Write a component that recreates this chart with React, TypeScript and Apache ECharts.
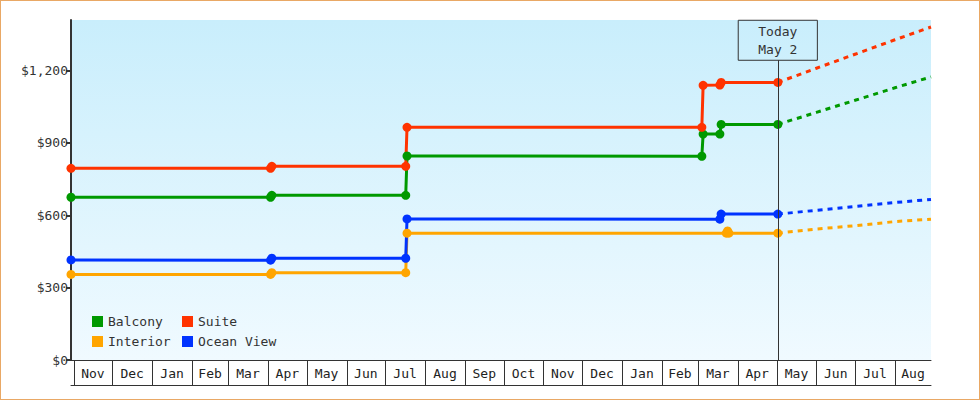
import React, { useEffect, useRef } from 'react';
import * as echarts from 'echarts';

// ---- Data ----
const SERIES_NAMES = ['Balcony', 'Suite', 'Interior', 'Ocean View'];
const SERIES_COLORS = ['#009900', '#ff3300', '#ffa500', '#0033ff'];

const BALCONY: [string, number][] = [
  ['2016-10-30', 675], ['2017-04-03', 675], ['2017-04-04', 683], ['2017-07-17', 683],
  ['2017-07-18', 846], ['2018-03-04', 845], ['2018-03-05', 937], ['2018-03-18', 937],
  ['2018-03-19', 977], ['2018-05-02', 977],
];
const SUITE: [string, number][] = [
  ['2016-10-30', 795], ['2017-04-03', 795], ['2017-04-04', 803], ['2017-07-17', 803],
  ['2017-07-18', 965], ['2018-03-04', 965], ['2018-03-05', 1139], ['2018-03-18', 1140],
  ['2018-03-19', 1151], ['2018-05-02', 1151],
];
const INTERIOR: [string, number][] = [
  ['2016-10-30', 355], ['2017-04-03', 355], ['2017-04-04', 362], ['2017-07-17', 362],
  ['2017-07-18', 526], ['2018-03-23', 526], ['2018-03-24', 535], ['2018-03-25', 526],
  ['2018-05-02', 526],
];
const OCEAN_VIEW: [string, number][] = [
  ['2016-10-30', 415], ['2017-04-03', 414], ['2017-04-04', 422], ['2017-07-17', 422],
  ['2017-07-18', 585], ['2018-03-18', 584], ['2018-03-19', 605], ['2018-05-02', 605],
];

const FORECAST_DATES = ['2018-05-02', '2018-06-01', '2018-07-01', '2018-08-01', '2018-08-29'];
const BALCONY_FORECAST = [977, 1027, 1077, 1129, 1174];
const SUITE_FORECAST = [1151, 1210, 1268, 1328, 1381];
const INTERIOR_FORECAST = [526, 543, 557, 574, 584];
const OCEAN_VIEW_FORECAST = [605, 621, 637, 653, 666];

const MONTH_LABELS = [
  'Nov', 'Dec', 'Jan', 'Feb', 'Mar', 'Apr', 'May', 'Jun', 'Jul', 'Aug', 'Sep',
  'Oct', 'Nov', 'Dec', 'Jan', 'Feb', 'Mar', 'Apr', 'May', 'Jun', 'Jul', 'Aug',
];
const MONTH_STARTS = [
  '2016-11-01', '2016-12-01', '2017-01-01', '2017-02-01', '2017-03-01', '2017-04-01',
  '2017-05-01', '2017-06-01', '2017-07-01', '2017-08-01', '2017-09-01', '2017-10-01',
  '2017-11-01', '2017-12-01', '2018-01-01', '2018-02-01', '2018-03-01', '2018-04-01',
  '2018-05-01', '2018-06-01', '2018-07-01', '2018-08-01',
];

const X_MIN = '2016-10-30';
const X_MAX = '2018-08-29';
const Y_TICKS = [0, 300, 600, 900, 1200];
const Y_MAX = 1410;
const TODAY = '2018-05-02';
const TODAY_LABEL = 'Today\nMay 2';
const TODAY_LINE_TOP = 1243;

const FONT = '"DejaVu Sans Mono", monospace';
const INK = '#333333';

export default function App() {
  const ref = useRef<HTMLDivElement>(null);

  useEffect(() => {
    if (!ref.current) return;
    const chart = echarts.init(ref.current, null, { renderer: 'svg' });
    const parse = (d: string) => +echarts.time.parse(d);

    const mainData = [BALCONY, SUITE, INTERIOR, OCEAN_VIEW];
    const forecasts = [BALCONY_FORECAST, SUITE_FORECAST, INTERIOR_FORECAST, OCEAN_VIEW_FORECAST];

    const series: any[] = [];
    SERIES_NAMES.forEach((name, i) => {
      series.push({
        name: name + ' forecast',
        type: 'line',
        data: FORECAST_DATES.map((d, k) => [d, forecasts[i][k]]),
        showSymbol: false,
        symbol: 'none',
        lineStyle: { color: SERIES_COLORS[i], width: 3, type: [5, 5] },
        itemStyle: { color: SERIES_COLORS[i] },
        silent: true,
        z: 2,
      });
    });
    SERIES_NAMES.forEach((name, i) => {
      const s: any = {
        name,
        type: 'line',
        data: mainData[i],
        symbol: 'circle',
        symbolSize: 9,
        showAllSymbol: true,
        lineStyle: { color: SERIES_COLORS[i], width: 3 },
        itemStyle: { color: SERIES_COLORS[i] },
        silent: true,
        z: 3,
      };
      if (i === 0) {
        s.markLine = {
          silent: true,
          symbol: ['none', 'none'],
          lineStyle: { color: INK, width: 1, type: 'solid' },
          label: {
            show: true,
            position: 'end',
            distance: 0,
            formatter: TODAY_LABEL,
            fontFamily: FONT,
            fontSize: 13,
            lineHeight: 18,
            color: INK,
            align: 'center',
            borderColor: INK,
            borderWidth: 1,
            padding: [2, 20, 2, 20],
          },
          data: [[{ coord: [TODAY, 0] }, { coord: [TODAY, TODAY_LINE_TOP] }]],
        };
      }
      series.push(s);
    });

    series.push({
      type: 'custom',
      name: 'months',
      xAxisIndex: 0,
      yAxisIndex: 0,
      clip: false,
      silent: true,
      encode: { x: 0, y: 2 },
      data: MONTH_STARTS.map((d, i) => [
        parse(d),
        i + 1 < MONTH_STARTS.length ? parse(MONTH_STARTS[i + 1]) : parse(X_MAX),
        0,
      ]),
      renderItem: (params: any, api: any) => {
        const s = api.coord([api.value(0), 0]);
        const e = api.coord([api.value(1), 0]);
        const x = Math.round(s[0]) + 0.5;
        return {
          type: 'group',
          children: [
            {
              type: 'line',
              shape: { x1: x, y1: s[1], x2: x, y2: s[1] + 25 },
              style: { stroke: INK, lineWidth: 1 },
            },
            {
              type: 'text',
              x: (s[0] + e[0]) / 2,
              y: s[1] + 13,
              style: {
                text: MONTH_LABELS[params.dataIndex],
                fill: '#222',
                font: '13px ' + FONT,
                align: 'center',
                verticalAlign: 'middle',
              },
            },
          ],
        };
      },
      z: 5,
    });

    const legendBase = {
      orient: 'vertical',
      top: 315,
      padding: 0,
      itemWidth: 11,
      itemHeight: 11,
      itemGap: 7,
      icon: 'rect',
      selectedMode: false,
      textStyle: { fontFamily: FONT, fontSize: 13, color: INK },
    };

    chart.setOption({
      animation: false,
      grid: {
        left: 71,
        right: 49,
        top: 20,
        bottom: 40,
        show: true,
        borderWidth: 0,
        backgroundColor: new echarts.graphic.LinearGradient(0, 0, 0, 1, [
          { offset: 0, color: '#c9eefc' },
          { offset: 1, color: '#f0faff' },
        ]),
      },
      legend: [
        { ...legendBase, left: 92, data: [SERIES_NAMES[0], SERIES_NAMES[2]] },
        { ...legendBase, left: 182, data: [SERIES_NAMES[1], SERIES_NAMES[3]] },
      ],
      xAxis: [
        {
          type: 'time',
          min: X_MIN,
          max: X_MAX,
          axisLine: { show: true, lineStyle: { color: INK, width: 1 } },
          axisTick: { show: false },
          axisLabel: { show: false },
          splitLine: { show: false },
        },
        {
          type: 'time',
          min: X_MIN,
          max: X_MAX,
          position: 'bottom',
          offset: 25,
          axisLine: { show: true, onZero: false, lineStyle: { color: INK, width: 1 } },
          axisTick: { show: false },
          axisLabel: { show: false },
          splitLine: { show: false },
        },
      ],
      yAxis: {
        type: 'value',
        min: 0,
        max: Y_MAX,
        axisLine: { show: true, lineStyle: { color: INK, width: 2 } },
        axisTick: { show: true, length: 5, lineStyle: { color: INK, width: 2 }, customValues: Y_TICKS },
        axisLabel: {
          customValues: Y_TICKS,
          formatter: (v: number) => '$' + v.toLocaleString('en-US'),
          color: INK,
          fontFamily: FONT,
          fontSize: 13,
          margin: 3,
        },
        splitLine: { show: false },
      },
      series,
    });

    return () => chart.dispose();
  }, []);

  return (
    <div style={{ position: 'fixed', left: 0, top: 0, width: 980, height: 400, background: '#fff' }}>
      <div ref={ref} style={{ position: 'absolute', left: 0, top: 0, width: 980, height: 400 }} />
      <div
        style={{
          position: 'absolute',
          left: 0,
          top: 0,
          width: 980,
          height: 400,
          boxSizing: 'border-box',
          border: '1px solid #e9a865',
          pointerEvents: 'none',
        }}
      />
    </div>
  );
}
